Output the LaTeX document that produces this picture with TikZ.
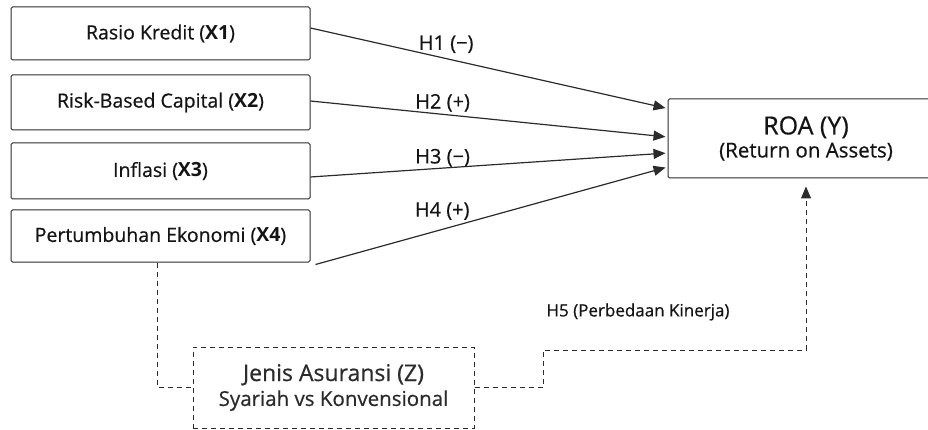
\documentclass[tikz,border=0pt]{standalone}
\usepackage{fontspec}
\setmainfont{Open Sans}[UprightFeatures={FakeBold=0.6}]
\usetikzlibrary{arrows.meta,positioning,calc}
\definecolor{boxline}{HTML}{2B2B2B}
\definecolor{textmain}{HTML}{141414}

\begin{document}
\begin{tikzpicture}[x=1pt, y=-1pt,
  every node/.style={text=textmain},
  varbox/.style={rectangle, draw=boxline, line width=1pt, rounded corners=1.5pt,
    minimum width=299pt, align=center, inner sep=0pt, font=\fontsize{19.5}{22}\selectfont},
  hyp/.style={-{Triangle[length=12pt, width=10pt]}, boxline, line width=1.2pt, shorten >=2pt},
  dashline/.style={boxline, line width=1pt, dash pattern=on 5pt off 4pt},
  hlabel/.style={font=\fontsize{20}{22}\selectfont, inner sep=1pt},
]
\useasboundingbox (0,0) rectangle (928,430);

% Independent variables
\node[varbox, minimum height=53pt] (x1) at (160.5,33.5) {Rasio Kredit (\textbf{X1})};
\node[varbox, minimum height=55pt] (x2) at (160.5,102.5) {Risk-Based Capital (\textbf{X2})};
\node[varbox, minimum height=56pt] (x3) at (160.5,171) {Inflasi (\textbf{X3})};
\node[varbox, minimum height=52pt] (x4) at (160.5,236) {Pertumbuhan Ekonomi (\textbf{X4})};

% Dependent variable
\node[varbox, minimum width=276pt, minimum height=79pt] (roa) at (806,138.5) {%
  {\fontsize{25}{28}\selectfont ROA (Y)}\\[1pt]
  {\fontsize{20.5}{24}\selectfont (Return on Assets)}};

% Moderating variable
\node[rectangle, draw, dashline, minimum width=281pt, minimum height=81pt, align=center, inner sep=0pt] (z) at (333.5,387.5) {%
  {\fontsize{23}{26}\selectfont Jenis Asuransi (Z)}\\[4pt]
  {\fontsize{20.5}{24}\selectfont Syariah vs Konvensional}};

% Hypotheses H1--H4
\draw[hyp] ([yshift=5.5pt]x1.east) -- ([yshift=30pt]roa.west) node[hlabel, pos=0.38, above=4pt] {H1 (−)};
\draw[hyp] ([yshift=1.5pt]x2.east) -- ([yshift=1.5pt]roa.west) node[hlabel, pos=0.37, above=1pt] {H2 (+)};
\draw[hyp] ([yshift=-6pt]x3.east) -- ([yshift=-14.5pt]roa.west) node[hlabel, pos=0.37, above=0pt] {H3 (−)};
\draw[hyp] ([xshift=5pt,yshift=-2pt]x4.south east) -- ([yshift=-28.5pt]roa.west) node[hlabel, pos=0.36, above=8pt] {H4 (+)};

% H5 via moderator
\coordinate (h5turn) at (543,350);
\draw[dashline] ([xshift=147pt]x4.south west) |- (z.west);
\draw[dashline, -{Triangle[length=12pt, width=10pt]}, shorten >=8pt] (z.east) -| (h5turn) -| (roa.south);
\node[hlabel, font=\fontsize{17}{19}\selectfont] (h5) at (638,312) {H5 (Perbedaan Kinerja)};

\end{tikzpicture}
\end{document}
